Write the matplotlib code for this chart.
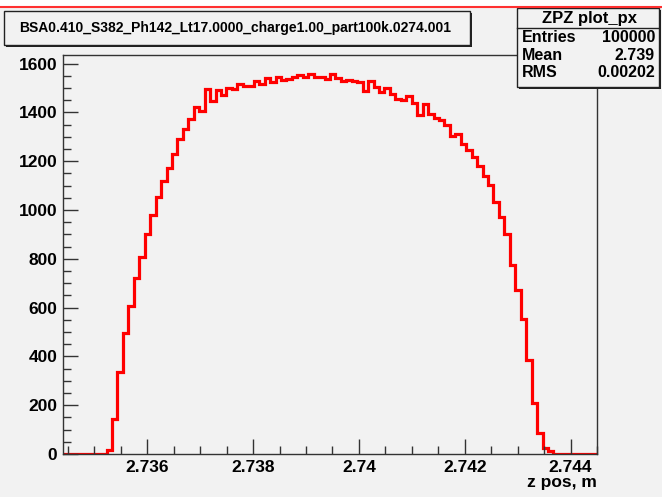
import numpy as np
import matplotlib.pyplot as plt
from matplotlib.patches import Rectangle
from matplotlib.lines import Line2D
from matplotlib.ticker import MultipleLocator, FuncFormatter

plt.rcParams['font.family'] = ['Liberation Sans', 'DejaVu Sans']
plt.rcParams['font.weight'] = 'bold'

W, H = 662, 497
BG = '#f2f2f2'

# histogram range and bin contents
x_lo, x_hi = 2.734405, 2.744501
counts = [0] * 8 + [
    15, 145, 337, 496, 607, 721, 807, 903, 978, 1053,
    1120, 1172, 1230, 1289, 1330, 1371, 1421, 1407, 1496, 1446,
    1492, 1473, 1500, 1495, 1514, 1506, 1506, 1528, 1515, 1539,
    1523, 1545, 1532, 1536, 1543, 1553, 1544, 1555, 1544, 1546,
    1537, 1557, 1541, 1530, 1533, 1527, 1523, 1489, 1527, 1503,
    1483, 1500, 1476, 1455, 1451, 1465, 1440, 1390, 1434, 1393,
    1376, 1367, 1350, 1305, 1312, 1272, 1245, 1217, 1178, 1140,
    1101, 1032, 971, 903, 773, 674, 555, 385, 211, 85,
    23, 12] + [0] * 8

title = 'BSA0.410_S382_Ph142_Lt17.0000_charge1.00_part100k.0274.001'
stats_title = 'ZPZ plot_px'
stats_names = ['Entries', 'Mean', 'RMS']
stats_values = ['100000', '2.739', '0.00202']
x_label = 'z pos, m'


def fx(px):
    return px / W


def fy(py):
    return 1 - py / H


fig = plt.figure(figsize=(W / 100, H / 100), dpi=100, facecolor=BG)
ax = fig.add_axes([fx(63), fy(454), fx(597) - fx(63), fy(55) - fy(454)])
ax.set_facecolor(BG)

edges = np.linspace(x_lo, x_hi, len(counts) + 1)
ax.stairs(counts, edges, color='red', linewidth=2.3, baseline=None)

ax.set_xlim(x_lo, x_hi)
ax.set_ylim(0, 1.05 * max(counts))

ax.xaxis.set_major_locator(MultipleLocator(0.002))
ax.xaxis.set_minor_locator(MultipleLocator(0.0005))
ax.yaxis.set_major_locator(MultipleLocator(200))
ax.yaxis.set_minor_locator(MultipleLocator(50))
ax.xaxis.set_major_formatter(FuncFormatter(lambda v, p: f'{v:g}'))
ax.yaxis.set_major_formatter(FuncFormatter(lambda v, p: f'{v:g}'))

ax.tick_params(which='both', direction='in', colors='#333333', labelcolor='black',
               labelsize=12.5, pad=4)
ax.tick_params(which='major', length=11, width=1)
ax.tick_params(which='minor', length=6, width=1)
for lab in ax.get_xticklabels() + ax.get_yticklabels():
    lab.set_fontweight('bold')
for s in ax.spines.values():
    s.set_color('#333333')
    s.set_linewidth(1)

fig.text(fx(597), fy(483), x_label, ha='right', va='center', fontsize=12.5, fontweight='bold')

# top strip with red border line
fig.add_artist(Rectangle((0, fy(7)), 1, 1 - fy(7), transform=fig.transFigure,
                         facecolor='white', edgecolor='none'))
fig.add_artist(Line2D([0, 1], [fy(7), fy(7)], transform=fig.transFigure,
                      color='#ff3030', linewidth=1.5))


def box(x0, y0, x1, y1):
    # shadow then box
    fig.add_artist(Rectangle((fx(x0 + 2), fy(y1 + 2)), fx(x1) - fx(x0), fy(y0) - fy(y1),
                             transform=fig.transFigure, facecolor='#222222', edgecolor='none'))
    fig.add_artist(Rectangle((fx(x0), fy(y1)), fx(x1) - fx(x0), fy(y0) - fy(y1),
                             transform=fig.transFigure, facecolor=BG, edgecolor='#222222',
                             linewidth=1))


# title box
box(4, 11, 470, 45)
fig.text(fx(235), fy(28), title, ha='center', va='center', fontsize=10, fontweight='bold')

# stats box
box(517, 8, 659, 87)
fig.add_artist(Line2D([fx(517), fx(659)], [fy(28), fy(28)], transform=fig.transFigure,
                      color='#222222', linewidth=1))
fig.text(fx(589), fy(18), stats_title, ha='center', va='center', fontsize=12, fontweight='bold')
for i, (n, v) in enumerate(zip(stats_names, stats_values)):
    yy = 38 + 17 * i
    fig.text(fx(522), fy(yy), n, ha='left', va='center', fontsize=11.5, fontweight='bold')
    fig.text(fx(655), fy(yy), v, ha='right', va='center', fontsize=11.5, fontweight='bold')

fig.savefig('out.png', dpi=100, facecolor=BG)
